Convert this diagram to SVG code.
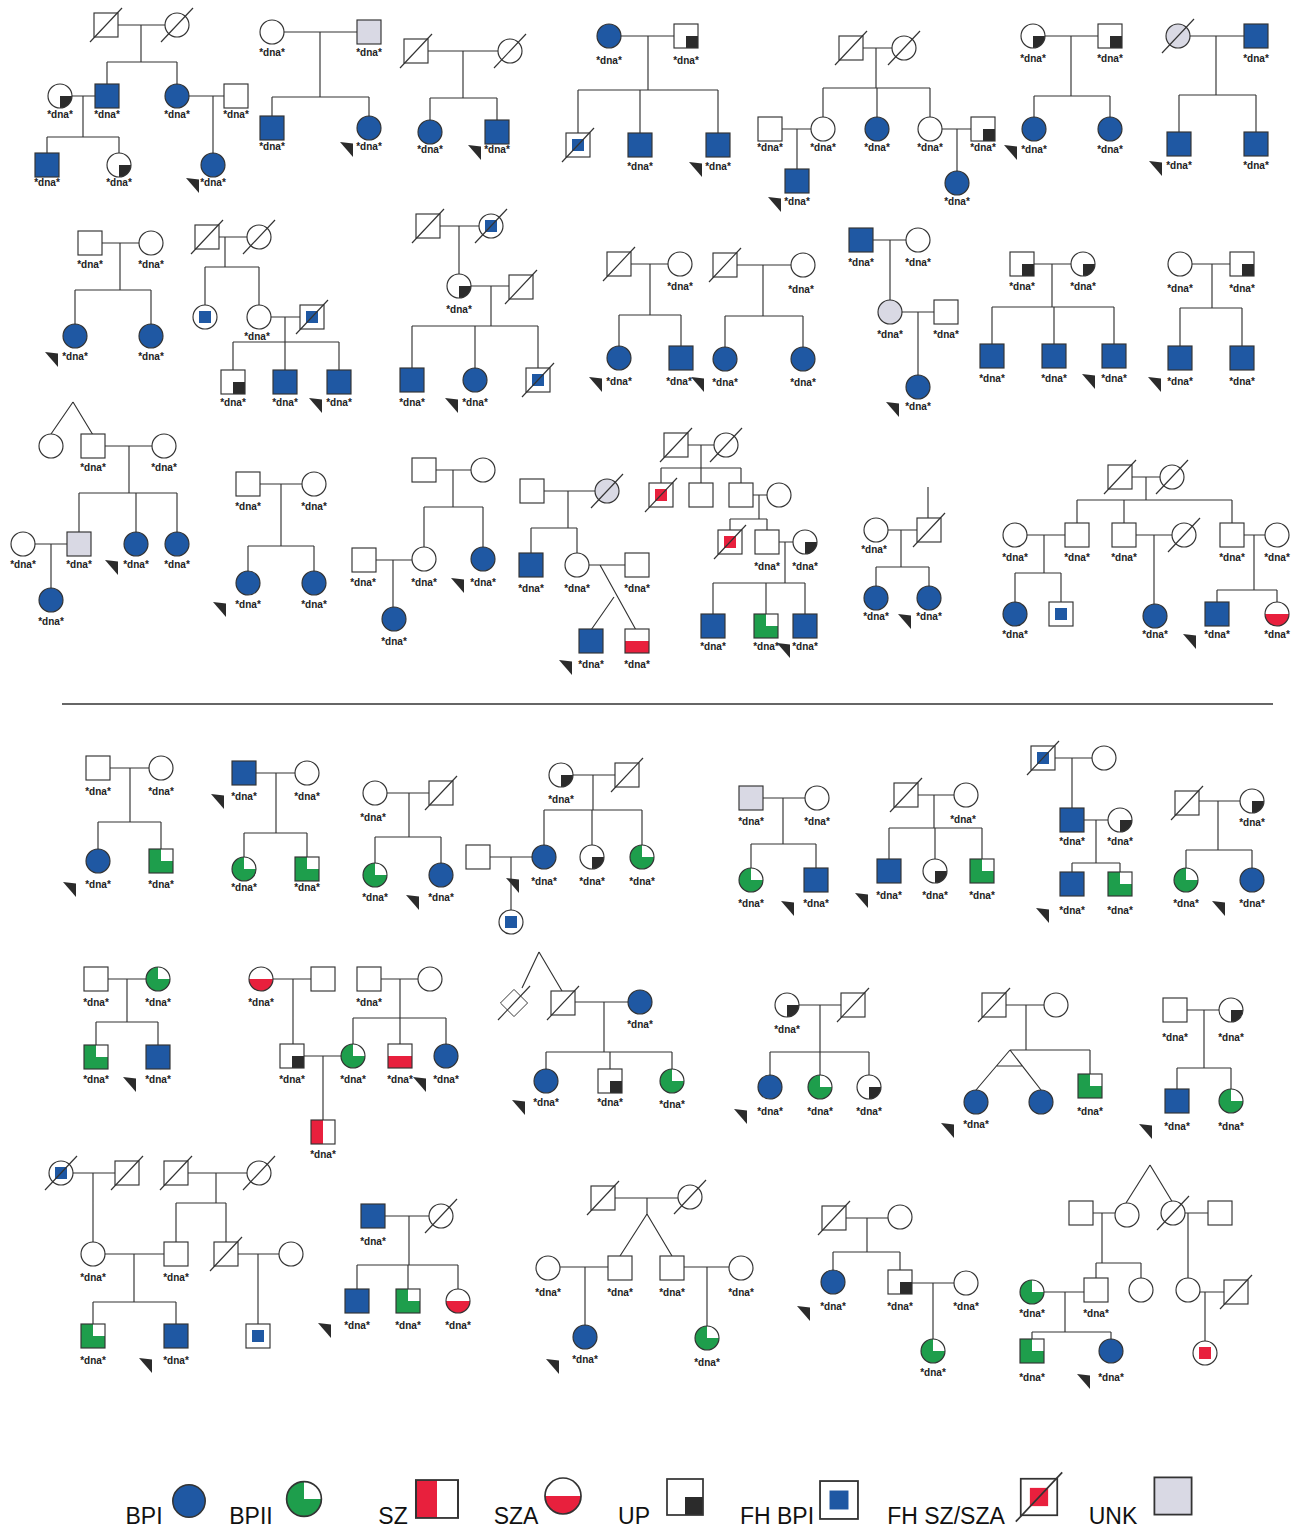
<svg xmlns="http://www.w3.org/2000/svg" width="1303" height="1533" viewBox="0 0 1303 1533">
<defs>
<style>
.o{stroke:#333;stroke-width:1.15}
.w{fill:#fff}
.n{fill:none}
.b{fill:#1f58a3}
.g{fill:#1e9e4c}
.r{fill:#e8203d}
.k{fill:#2b2b2b}
.u{fill:#d9d9e4}
.c path{stroke:#333;stroke-width:1.15;fill:none}
.d{font-family:"Liberation Sans",Arial,sans-serif;font-size:10px;font-weight:bold;text-anchor:middle;fill:#222}
.lg{font-family:"Liberation Sans",Arial,sans-serif;font-size:23px;text-anchor:middle;fill:#111}
</style>
<rect id="sq" class="o w" x="-12" y="-12" width="24" height="24"/>
<circle id="ci" class="o w" r="12"/>
<rect id="sqB" class="o b" x="-12" y="-12" width="24" height="24"/>
<circle id="ciB" class="o b" r="12"/>
<rect id="sqU" class="o u" x="-12" y="-12" width="24" height="24"/>
<circle id="ciU" class="o u" r="12"/>
<g id="sqG"><rect class="g" x="-12" y="-12" width="24" height="24"/><rect class="w" x="0" y="-12" width="12" height="12"/><rect class="o n" x="-12" y="-12" width="24" height="24"/></g>
<g id="ciG"><circle class="g" r="12"/><path class="w" d="M0,0V-12A12,12 0 0 1 12,0Z"/><circle class="o n" r="12"/></g>
<g id="sqUP"><rect class="w" x="-12" y="-12" width="24" height="24"/><rect class="k" x="0" y="0" width="12" height="12"/><rect class="o n" x="-12" y="-12" width="24" height="24"/></g>
<g id="ciUP"><circle class="w" r="12"/><path class="k" d="M0,0H12A12,12 0 0 1 0,12Z"/><circle class="o n" r="12"/></g>
<g id="sqSZ"><rect class="w" x="-12" y="-12" width="24" height="24"/><rect class="r" x="-12" y="-12" width="12" height="24"/><rect class="o n" x="-12" y="-12" width="24" height="24"/></g>
<g id="sqSZA"><rect class="w" x="-12" y="-12" width="24" height="24"/><rect class="r" x="-12" y="0" width="24" height="12"/><rect class="o n" x="-12" y="-12" width="24" height="24"/></g>
<g id="ciSZA"><circle class="w" r="12"/><path class="r" d="M-12,0A12,12 0 0 0 12,0Z"/><circle class="o n" r="12"/></g>
<g id="sqFH"><rect class="o w" x="-12" y="-12" width="24" height="24"/><rect class="b" x="-6" y="-6" width="12" height="12"/></g>
<g id="ciFH"><circle class="o w" r="12"/><rect class="b" x="-6" y="-6" width="12" height="12"/></g>
<g id="sqFHR"><rect class="o w" x="-12" y="-12" width="24" height="24"/><rect class="r" x="-6" y="-6" width="12" height="12"/></g>
<g id="ciFHR"><circle class="o w" r="12"/><rect class="r" x="-6" y="-6" width="12" height="12"/></g>
<line id="dec" class="o" x1="-16" y1="17" x2="16" y2="-17"/>
<polygon id="ar" class="k" points="0,0 13,1.5 13,15"/>
</defs>
<rect width="1303" height="1533" fill="#fff"/>

<g id="connectors" class="c">
<path d="M106,25H177M141,25V62M107,62H177M107,62V96M177,62V96M60,96H107M83,96V137M47,137H119M47,137V165M119,137V165M177,96H236M213,96V165"/>
<path d="M272,32H369M320,32V97M272,97H369M272,97V128M369,97V128"/>
<path d="M416,51H510M463,51V98M430,98H497M430,98V132M497,98V132"/>
<path d="M609,36H686M648,36V90M578,90H718M578,90V145M640,90V145M718,90V145"/>
<path d="M851,48H904M876,48V88M823,88H930M823,88V129M877,88V129M930,88V129M770,129H823M797,129V181M930,129H983M957,129V183"/>
<path d="M1033,36H1110M1071,36V96M1034,96H1110M1034,96V129M1110,96V129"/>
<path d="M1178,36H1256M1216,36V95M1179,95H1256M1179,95V144M1256,95V144"/>
<path d="M90,243H151M120,243V290M75,290H151M75,290V336M151,290V336"/>
<path d="M207,237H259M225,237V267M205,267H259M205,267V317M259,267V317M259,317H312M285,317V342M233,342H339M233,342V382M285,342V382M339,342V382"/>
<path d="M428,226H491M459,226V286M459,286H521M491,286V326M412,326H538M412,326V380M475,326V380M538,326V380"/>
<path d="M619,264H680M650,264V315M619,315H681M619,315V358M681,315V358M725,265H803M763,265V316M725,316H803M725,316V359M803,316V359"/>
<path d="M861,240H918M890,240V312M890,312H946M918,312V387"/>
<path d="M1022,264H1083M1052,264V307M992,307H1114M992,307V356M1054,307V356M1114,307V356"/>
<path d="M1180,264H1242M1212,264V308M1180,308H1242M1180,308V358M1242,308V358"/>
<path d="M73,402L51,434M73,402L93,435M93,446H164M129,446V493M79,493H177M79,493V544M136,493V544M177,493V544M23,544H79M51,544V600"/>
<path d="M248,484H314M281,484V546M248,546H314M248,546V583M314,546V583"/>
<path d="M424,470H483M453,470V507M424,507H483M424,507V559M483,507V559M364,560H424M393,560V619"/>
<path d="M532,491H607M568,491V528M531,528H577M531,528V565M577,528V565M577,565H637M600,565L636,630M591,630L614,597"/>
<path d="M676,445H726M701,445V468M661,468H741M661,468V495M701,468V495M741,468V495M741,495H779M759,495V519M730,519H767M730,519V542M767,519V542M767,542H805M785,542V583M713,583H805M713,583V626M766,583V626M805,583V626"/>
<path d="M928,487V530M876,530H929M901,530V567M876,567H929M876,567V598M929,567V598"/>
<path d="M1120,477H1172M1146,477V500M1077,500H1232M1077,500V535M1124,500V535M1232,500V535M1015,535H1077M1044,535V573M1015,573H1061M1015,573V614M1061,573V614M1124,535H1184M1154,535V616M1232,535H1277M1254,535V590M1217,590H1277M1217,590V614M1277,590V614"/>
<path d="M62,704H1273" style="stroke-width:1.6"/>
<path d="M98,768H161M130,768V822M98,822H161M98,822V861M161,822V861"/>
<path d="M244,773H307M276,773V833M244,833H307M244,833V869M307,833V869"/>
<path d="M375,793H441M409,793V837M375,837H441M375,837V875M441,837V875"/>
<path d="M561,775H627M593,775V810M544,810H642M544,810V857M592,810V857M642,810V857M478,857H544M511,857V922"/>
<path d="M751,798H817M783,798V844M751,844H816M751,844V880M816,844V880"/>
<path d="M906,795H966M934,795V828M889,828H982M889,828V871M935,828V871M982,828V871"/>
<path d="M1043,758H1104M1072,758V820M1072,820H1120M1096,820V863M1072,863H1120M1072,863V884M1120,863V884"/>
<path d="M1187,801H1252M1218,801V850M1186,850H1252M1186,850V880M1252,850V880"/>
<path d="M96,979H158M127,979V1022M96,1022H158M96,1022V1057M158,1022V1057"/>
<path d="M261,979H323M293,979V1056M369,979H430M400,979V1018M353,1018H446M353,1018V1056M400,1018V1056M446,1018V1056M292,1056H353M323,1056V1132"/>
<path d="M539,952L522,988M539,952L562,991M563,1002H640M604,1002V1052M546,1052H672M546,1052V1081M610,1052V1081M672,1052V1081"/>
<path d="M787,1005H853M820,1005V1052M770,1052H869M770,1052V1087M820,1052V1087M869,1052V1087"/>
<path d="M994,1005H1056M1026,1005V1050M1010,1050H1090M1090,1050V1086M1010,1050L976,1090M1010,1050L1041,1090M996,1066H1022"/>
<path d="M1175,1010H1231M1204,1010V1068M1177,1068H1231M1177,1068V1101M1231,1068V1101"/>
<path d="M61,1173H127M93,1173V1254M176,1173H259M216,1173V1203M176,1203H226M176,1203V1254M226,1203V1254M93,1254H176M134,1254V1302M93,1302H176M93,1302V1336M176,1302V1336M226,1254H291M258,1254V1336"/>
<path d="M373,1216H441M409,1216V1265M357,1265H458M357,1265V1301M408,1265V1301M458,1265V1301"/>
<path d="M603,1198H690M647,1198V1214M647,1214L620,1256M647,1214L672,1256M548,1267H620M585,1267V1337M672,1267H741M707,1267V1338"/>
<path d="M834,1218H900M867,1218V1252M833,1252H900M833,1252V1282M900,1252V1282M900,1283H966M933,1283V1351"/>
<path d="M1150,1165L1126,1203M1150,1165L1173,1203M1081,1213H1127M1102,1213V1263M1096,1263H1141M1096,1263V1290M1141,1263V1290M1173,1213H1220M1188,1213V1290M1032,1292H1096M1065,1292V1332M1032,1332H1111M1032,1332V1351M1111,1332V1351M1188,1292H1236M1205,1292V1353"/>
</g>

<!-- P1 -->
<g id="p1-1"><use href="#sq" x="106" y="25"/><use href="#dec" x="106" y="25"/></g>
<g id="p1-2"><use href="#ci" x="177" y="25"/><use href="#dec" x="177" y="25"/></g>
<g id="p1-3"><use href="#ciUP" x="60" y="96"/><text class="d" x="60" y="118">*dna*</text></g>
<g id="p1-4"><use href="#sqB" x="107" y="96"/><text class="d" x="107" y="118">*dna*</text></g>
<g id="p1-5"><use href="#ciB" x="177" y="96"/><text class="d" x="177" y="118">*dna*</text></g>
<g id="p1-6"><use href="#sq" x="236" y="96"/><text class="d" x="236" y="118">*dna*</text></g>
<g id="p1-7"><use href="#sqB" x="47" y="165"/><text class="d" x="47" y="186">*dna*</text></g>
<g id="p1-8"><use href="#ciUP" x="119" y="165"/><text class="d" x="119" y="186">*dna*</text></g>
<g id="p1-9"><use href="#ciB" x="213" y="165"/><text class="d" x="213" y="186">*dna*</text><use href="#ar" x="186" y="178"/></g>
<!-- P2 -->
<g id="p2-1"><use href="#ci" x="272" y="32"/><text class="d" x="272" y="56">*dna*</text></g>
<g id="p2-2"><use href="#sqU" x="369" y="32"/><text class="d" x="369" y="56">*dna*</text></g>
<g id="p2-3"><use href="#sqB" x="272" y="128"/><text class="d" x="272" y="150">*dna*</text></g>
<g id="p2-4"><use href="#ciB" x="369" y="128"/><text class="d" x="369" y="150">*dna*</text><use href="#ar" x="340" y="142"/></g>
<!-- P3 -->
<g id="p3-1"><use href="#sq" x="416" y="51"/><use href="#dec" x="416" y="51"/></g>
<g id="p3-2"><use href="#ci" x="510" y="51"/><use href="#dec" x="510" y="51"/></g>
<g id="p3-3"><use href="#ciB" x="430" y="132"/><text class="d" x="430" y="153">*dna*</text></g>
<g id="p3-4"><use href="#sqB" x="497" y="132"/><text class="d" x="497" y="153">*dna*</text><use href="#ar" x="468" y="145"/></g>
<!-- P4 -->
<g id="p4-1"><use href="#ciB" x="609" y="36"/><text class="d" x="609" y="64">*dna*</text></g>
<g id="p4-2"><use href="#sqUP" x="686" y="36"/><text class="d" x="686" y="64">*dna*</text></g>
<g id="p4-3"><use href="#sqFH" x="578" y="145"/><use href="#dec" x="578" y="145"/></g>
<g id="p4-4"><use href="#sqB" x="640" y="145"/><text class="d" x="640" y="170">*dna*</text></g>
<g id="p4-5"><use href="#sqB" x="718" y="145"/><text class="d" x="718" y="170">*dna*</text><use href="#ar" x="689" y="162"/></g>
<!-- P5 -->
<g id="p5-1"><use href="#sq" x="851" y="48"/><use href="#dec" x="851" y="48"/></g>
<g id="p5-2"><use href="#ci" x="904" y="48"/><use href="#dec" x="904" y="48"/></g>
<g id="p5-3"><use href="#sq" x="770" y="129"/><text class="d" x="770" y="151">*dna*</text></g>
<g id="p5-4"><use href="#ci" x="823" y="129"/><text class="d" x="823" y="151">*dna*</text></g>
<g id="p5-5"><use href="#ciB" x="877" y="129"/><text class="d" x="877" y="151">*dna*</text></g>
<g id="p5-6"><use href="#ci" x="930" y="129"/><text class="d" x="930" y="151">*dna*</text></g>
<g id="p5-7"><use href="#sqUP" x="983" y="129"/><text class="d" x="983" y="151">*dna*</text></g>
<g id="p5-8"><use href="#sqB" x="797" y="181"/><text class="d" x="797" y="205">*dna*</text><use href="#ar" x="768" y="197"/></g>
<g id="p5-9"><use href="#ciB" x="957" y="183"/><text class="d" x="957" y="205">*dna*</text></g>
<!-- P6 -->
<g id="p6-1"><use href="#ciUP" x="1033" y="36"/><text class="d" x="1033" y="62">*dna*</text></g>
<g id="p6-2"><use href="#sqUP" x="1110" y="36"/><text class="d" x="1110" y="62">*dna*</text></g>
<g id="p6-3"><use href="#ciB" x="1034" y="129"/><text class="d" x="1034" y="153">*dna*</text><use href="#ar" x="1004" y="145"/></g>
<g id="p6-4"><use href="#ciB" x="1110" y="129"/><text class="d" x="1110" y="153">*dna*</text></g>
<!-- P7 -->
<g id="p7-1"><use href="#ciU" x="1178" y="36"/><use href="#dec" x="1178" y="36"/></g>
<g id="p7-2"><use href="#sqB" x="1256" y="36"/><text class="d" x="1256" y="62">*dna*</text></g>
<g id="p7-3"><use href="#sqB" x="1179" y="144"/><text class="d" x="1179" y="169">*dna*</text><use href="#ar" x="1149" y="161"/></g>
<g id="p7-4"><use href="#sqB" x="1256" y="144"/><text class="d" x="1256" y="169">*dna*</text></g>
<!-- P8 -->
<g id="p8-1"><use href="#sq" x="90" y="243"/><text class="d" x="90" y="268">*dna*</text></g>
<g id="p8-2"><use href="#ci" x="151" y="243"/><text class="d" x="151" y="268">*dna*</text></g>
<g id="p8-3"><use href="#ciB" x="75" y="336"/><text class="d" x="75" y="360">*dna*</text><use href="#ar" x="45" y="352"/></g>
<g id="p8-4"><use href="#ciB" x="151" y="336"/><text class="d" x="151" y="360">*dna*</text></g>
<!-- P9 -->
<g id="p9-1"><use href="#sq" x="207" y="237"/><use href="#dec" x="207" y="237"/></g>
<g id="p9-2"><use href="#ci" x="259" y="237"/><use href="#dec" x="259" y="237"/></g>
<g id="p9-3"><use href="#ciFH" x="205" y="317"/></g>
<g id="p9-4"><use href="#ci" x="259" y="317"/><text class="d" x="257" y="340">*dna*</text></g>
<g id="p9-5"><use href="#sqFH" x="312" y="317"/><use href="#dec" x="312" y="317"/></g>
<g id="p9-6"><use href="#sqUP" x="233" y="382"/><text class="d" x="233" y="406">*dna*</text></g>
<g id="p9-7"><use href="#sqB" x="285" y="382"/><text class="d" x="285" y="406">*dna*</text></g>
<g id="p9-8"><use href="#sqB" x="339" y="382"/><text class="d" x="339" y="406">*dna*</text><use href="#ar" x="309" y="398"/></g>
<!-- P10 -->
<g id="p10-1"><use href="#sq" x="428" y="226"/><use href="#dec" x="428" y="226"/></g>
<g id="p10-2"><use href="#ciFH" x="491" y="226"/><use href="#dec" x="491" y="226"/></g>
<g id="p10-3"><use href="#ciUP" x="459" y="286"/><text class="d" x="459" y="313">*dna*</text></g>
<g id="p10-4"><use href="#sq" x="521" y="287"/><use href="#dec" x="521" y="287"/></g>
<g id="p10-5"><use href="#sqB" x="412" y="380"/><text class="d" x="412" y="406">*dna*</text></g>
<g id="p10-6"><use href="#ciB" x="475" y="380"/><text class="d" x="475" y="406">*dna*</text><use href="#ar" x="445" y="398"/></g>
<g id="p10-7"><use href="#sqFH" x="538" y="380"/><use href="#dec" x="538" y="380"/></g>
<!-- P11 -->
<g id="p11-1"><use href="#sq" x="619" y="264"/><use href="#dec" x="619" y="264"/></g>
<g id="p11-2"><use href="#ci" x="680" y="264"/><text class="d" x="680" y="290">*dna*</text></g>
<g id="p11-3"><use href="#ciB" x="619" y="358"/><text class="d" x="619" y="385">*dna*</text><use href="#ar" x="589" y="377"/></g>
<g id="p11-4"><use href="#sqB" x="681" y="358"/><text class="d" x="679" y="385">*dna*</text><use href="#ar" x="691" y="377"/></g>
<g id="p11-5"><use href="#sq" x="725" y="265"/><use href="#dec" x="725" y="265"/></g>
<g id="p11-6"><use href="#ci" x="803" y="265"/><text class="d" x="801" y="293">*dna*</text></g>
<g id="p11-7"><use href="#ciB" x="725" y="359"/><text class="d" x="725" y="386">*dna*</text></g>
<g id="p11-8"><use href="#ciB" x="803" y="359"/><text class="d" x="803" y="386">*dna*</text></g>
<!-- P12 -->
<g id="p12-1"><use href="#sqB" x="861" y="240"/><text class="d" x="861" y="266">*dna*</text></g>
<g id="p12-2"><use href="#ci" x="918" y="240"/><text class="d" x="918" y="266">*dna*</text></g>
<g id="p12-3"><use href="#ciU" x="890" y="312"/><text class="d" x="890" y="338">*dna*</text></g>
<g id="p12-4"><use href="#sq" x="946" y="312"/><text class="d" x="946" y="338">*dna*</text></g>
<g id="p12-5"><use href="#ciB" x="918" y="387"/><text class="d" x="918" y="410">*dna*</text><use href="#ar" x="886" y="402"/></g>
<!-- P13 -->
<g id="p13-1"><use href="#sqUP" x="1022" y="264"/><text class="d" x="1022" y="290">*dna*</text></g>
<g id="p13-2"><use href="#ciUP" x="1083" y="264"/><text class="d" x="1083" y="290">*dna*</text></g>
<g id="p13-3"><use href="#sqB" x="992" y="356"/><text class="d" x="992" y="382">*dna*</text></g>
<g id="p13-4"><use href="#sqB" x="1054" y="356"/><text class="d" x="1054" y="382">*dna*</text></g>
<g id="p13-5"><use href="#sqB" x="1114" y="356"/><text class="d" x="1114" y="382">*dna*</text><use href="#ar" x="1082" y="374"/></g>
<!-- P14 -->
<g id="p14-1"><use href="#ci" x="1180" y="264"/><text class="d" x="1180" y="292">*dna*</text></g>
<g id="p14-2"><use href="#sqUP" x="1242" y="264"/><text class="d" x="1242" y="292">*dna*</text></g>
<g id="p14-3"><use href="#sqB" x="1180" y="358"/><text class="d" x="1180" y="385">*dna*</text><use href="#ar" x="1148" y="377"/></g>
<g id="p14-4"><use href="#sqB" x="1242" y="358"/><text class="d" x="1242" y="385">*dna*</text></g>
<!-- P15 -->
<g id="p15-1"><use href="#ci" x="51" y="446"/></g>
<g id="p15-2"><use href="#sq" x="93" y="446"/><text class="d" x="93" y="471">*dna*</text></g>
<g id="p15-3"><use href="#ci" x="164" y="446"/><text class="d" x="164" y="471">*dna*</text></g>
<g id="p15-4"><use href="#sqU" x="79" y="544"/><text class="d" x="79" y="568">*dna*</text></g>
<g id="p15-5"><use href="#ciB" x="136" y="544"/><text class="d" x="136" y="568">*dna*</text><use href="#ar" x="105" y="560"/></g>
<g id="p15-6"><use href="#ciB" x="177" y="544"/><text class="d" x="177" y="568">*dna*</text></g>
<g id="p15-7"><use href="#ci" x="23" y="544"/><text class="d" x="23" y="568">*dna*</text></g>
<g id="p15-8"><use href="#ciB" x="51" y="600"/><text class="d" x="51" y="625">*dna*</text></g>
<!-- P16 -->
<g id="p16-1"><use href="#sq" x="248" y="484"/><text class="d" x="248" y="510">*dna*</text></g>
<g id="p16-2"><use href="#ci" x="314" y="484"/><text class="d" x="314" y="510">*dna*</text></g>
<g id="p16-3"><use href="#ciB" x="248" y="583"/><text class="d" x="248" y="608">*dna*</text><use href="#ar" x="213" y="602"/></g>
<g id="p16-4"><use href="#ciB" x="314" y="583"/><text class="d" x="314" y="608">*dna*</text></g>
<!-- P17 -->
<g id="p17-1"><use href="#sq" x="424" y="470"/></g>
<g id="p17-2"><use href="#ci" x="483" y="470"/></g>
<g id="p17-3"><use href="#ci" x="424" y="559"/><text class="d" x="424" y="586">*dna*</text></g>
<g id="p17-4"><use href="#ciB" x="483" y="559"/><text class="d" x="483" y="586">*dna*</text><use href="#ar" x="451" y="578"/></g>
<g id="p17-5"><use href="#sq" x="364" y="560"/><text class="d" x="363" y="586">*dna*</text></g>
<g id="p17-6"><use href="#ciB" x="394" y="619"/><text class="d" x="394" y="645">*dna*</text></g>
<!-- P18 -->
<g id="p18-1"><use href="#sq" x="532" y="491"/></g>
<g id="p18-2"><use href="#ciU" x="607" y="491"/><use href="#dec" x="607" y="491"/></g>
<g id="p18-3"><use href="#sqB" x="531" y="565"/><text class="d" x="531" y="592">*dna*</text></g>
<g id="p18-4"><use href="#ci" x="577" y="565"/><text class="d" x="577" y="592">*dna*</text></g>
<g id="p18-5"><use href="#sq" x="637" y="565"/><text class="d" x="637" y="592">*dna*</text></g>
<g id="p18-6"><use href="#sqB" x="591" y="641"/><text class="d" x="591" y="668">*dna*</text><use href="#ar" x="559" y="660"/></g>
<g id="p18-7"><use href="#sqSZA" x="637" y="641"/><text class="d" x="637" y="668">*dna*</text></g>
<!-- P19 -->
<g id="p19-1"><use href="#sq" x="676" y="445"/><use href="#dec" x="676" y="445"/></g>
<g id="p19-2"><use href="#ci" x="726" y="445"/><use href="#dec" x="726" y="445"/></g>
<g id="p19-3"><use href="#sqFHR" x="661" y="495"/><use href="#dec" x="661" y="495"/></g>
<g id="p19-4"><use href="#sq" x="701" y="495"/></g>
<g id="p19-5"><use href="#sq" x="741" y="495"/></g>
<g id="p19-6"><use href="#ci" x="779" y="495"/></g>
<g id="p19-7"><use href="#sqFHR" x="730" y="542"/><use href="#dec" x="730" y="542"/></g>
<g id="p19-8"><use href="#sq" x="767" y="542"/><text class="d" x="767" y="570">*dna*</text></g>
<g id="p19-9"><use href="#ciUP" x="805" y="542"/><text class="d" x="805" y="570">*dna*</text></g>
<g id="p19-10"><use href="#sqB" x="713" y="626"/><text class="d" x="713" y="650">*dna*</text></g>
<g id="p19-11"><use href="#sqG" x="766" y="626"/><text class="d" x="766" y="650">*dna*</text><use href="#ar" x="777" y="643"/></g>
<g id="p19-12"><use href="#sqB" x="805" y="626"/><text class="d" x="805" y="650">*dna*</text></g>
<!-- P20 -->
<g id="p20-1"><use href="#ci" x="876" y="530"/><text class="d" x="874" y="553">*dna*</text></g>
<g id="p20-2"><use href="#sq" x="929" y="530"/><use href="#dec" x="929" y="530"/></g>
<g id="p20-3"><use href="#ciB" x="876" y="598"/><text class="d" x="876" y="620">*dna*</text></g>
<g id="p20-4"><use href="#ciB" x="929" y="598"/><text class="d" x="929" y="620">*dna*</text><use href="#ar" x="898" y="614"/></g>
<!-- P21 -->
<g id="p21-1"><use href="#sq" x="1120" y="477"/><use href="#dec" x="1120" y="477"/></g>
<g id="p21-2"><use href="#ci" x="1172" y="477"/><use href="#dec" x="1172" y="477"/></g>
<g id="p21-3"><use href="#ci" x="1015" y="535"/><text class="d" x="1015" y="561">*dna*</text></g>
<g id="p21-4"><use href="#sq" x="1077" y="535"/><text class="d" x="1077" y="561">*dna*</text></g>
<g id="p21-5"><use href="#sq" x="1124" y="535"/><text class="d" x="1124" y="561">*dna*</text></g>
<g id="p21-6"><use href="#ci" x="1184" y="535"/><use href="#dec" x="1184" y="535"/></g>
<g id="p21-7"><use href="#sq" x="1232" y="535"/><text class="d" x="1232" y="561">*dna*</text></g>
<g id="p21-8"><use href="#ci" x="1277" y="535"/><text class="d" x="1277" y="561">*dna*</text></g>
<g id="p21-9"><use href="#ciB" x="1015" y="614"/><text class="d" x="1015" y="638">*dna*</text></g>
<g id="p21-10"><use href="#sqFH" x="1061" y="614"/></g>
<g id="p21-11"><use href="#ciB" x="1155" y="616"/><text class="d" x="1155" y="638">*dna*</text></g>
<g id="p21-12"><use href="#sqB" x="1217" y="614"/><text class="d" x="1217" y="638">*dna*</text><use href="#ar" x="1183" y="634"/></g>
<g id="p21-13"><use href="#ciSZA" x="1277" y="614"/><text class="d" x="1277" y="638">*dna*</text></g>
<!-- P22 -->
<g id="p22-1"><use href="#sq" x="98" y="768"/><text class="d" x="98" y="795">*dna*</text></g>
<g id="p22-2"><use href="#ci" x="161" y="768"/><text class="d" x="161" y="795">*dna*</text></g>
<g id="p22-3"><use href="#ciB" x="98" y="861"/><text class="d" x="98" y="888">*dna*</text><use href="#ar" x="63" y="882"/></g>
<g id="p22-4"><use href="#sqG" x="161" y="861"/><text class="d" x="161" y="888">*dna*</text></g>
<!-- P23 -->
<g id="p23-1"><use href="#sqB" x="244" y="773"/><text class="d" x="244" y="800">*dna*</text><use href="#ar" x="211" y="794"/></g>
<g id="p23-2"><use href="#ci" x="307" y="773"/><text class="d" x="307" y="800">*dna*</text></g>
<g id="p23-3"><use href="#ciG" x="244" y="869"/><text class="d" x="244" y="891">*dna*</text></g>
<g id="p23-4"><use href="#sqG" x="307" y="869"/><text class="d" x="307" y="891">*dna*</text></g>
<!-- P24 -->
<g id="p24-1"><use href="#ci" x="375" y="793"/><text class="d" x="373" y="821">*dna*</text></g>
<g id="p24-2"><use href="#sq" x="441" y="793"/><use href="#dec" x="441" y="793"/></g>
<g id="p24-3"><use href="#ciG" x="375" y="875"/><text class="d" x="375" y="901">*dna*</text></g>
<g id="p24-4"><use href="#ciB" x="441" y="875"/><text class="d" x="441" y="901">*dna*</text><use href="#ar" x="406" y="895"/></g>
<!-- P25 -->
<g id="p25-1"><use href="#ciUP" x="561" y="775"/><text class="d" x="561" y="803">*dna*</text></g>
<g id="p25-2"><use href="#sq" x="627" y="775"/><use href="#dec" x="627" y="775"/></g>
<g id="p25-3"><use href="#ciB" x="544" y="857"/><text class="d" x="544" y="885">*dna*</text></g>
<g id="p25-4"><use href="#ciUP" x="592" y="857"/><text class="d" x="592" y="885">*dna*</text></g>
<g id="p25-5"><use href="#ciG" x="642" y="857"/><text class="d" x="642" y="885">*dna*</text></g>
<g id="p25-6"><use href="#sq" x="478" y="857"/></g>
<g id="p25-7"><use href="#ciFH" x="511" y="922"/><use href="#ar" x="506" y="878"/></g>
<!-- P26 -->
<g id="p26-1"><use href="#sqU" x="751" y="798"/><text class="d" x="751" y="825">*dna*</text></g>
<g id="p26-2"><use href="#ci" x="817" y="798"/><text class="d" x="817" y="825">*dna*</text></g>
<g id="p26-3"><use href="#ciG" x="751" y="880"/><text class="d" x="751" y="907">*dna*</text></g>
<g id="p26-4"><use href="#sqB" x="816" y="880"/><text class="d" x="816" y="907">*dna*</text><use href="#ar" x="781" y="901"/></g>
<!-- P27 -->
<g id="p27-1"><use href="#sq" x="906" y="795"/><use href="#dec" x="906" y="795"/></g>
<g id="p27-2"><use href="#ci" x="966" y="795"/><text class="d" x="963" y="823">*dna*</text></g>
<g id="p27-3"><use href="#sqB" x="889" y="871"/><text class="d" x="889" y="899">*dna*</text><use href="#ar" x="855" y="893"/></g>
<g id="p27-4"><use href="#ciUP" x="935" y="871"/><text class="d" x="935" y="899">*dna*</text></g>
<g id="p27-5"><use href="#sqG" x="982" y="871"/><text class="d" x="982" y="899">*dna*</text></g>
<!-- P28 -->
<g id="p28-1"><use href="#sqFH" x="1043" y="758"/><use href="#dec" x="1043" y="758"/></g>
<g id="p28-2"><use href="#ci" x="1104" y="758"/></g>
<g id="p28-3"><use href="#sqB" x="1072" y="820"/><text class="d" x="1072" y="845">*dna*</text></g>
<g id="p28-4"><use href="#ciUP" x="1120" y="820"/><text class="d" x="1120" y="845">*dna*</text></g>
<g id="p28-5"><use href="#sqB" x="1072" y="884"/><text class="d" x="1072" y="914">*dna*</text><use href="#ar" x="1036" y="908"/></g>
<g id="p28-6"><use href="#sqG" x="1120" y="884"/><text class="d" x="1120" y="914">*dna*</text></g>
<!-- P29 -->
<g id="p29-1"><use href="#sq" x="1187" y="803"/><use href="#dec" x="1187" y="803"/></g>
<g id="p29-2"><use href="#ciUP" x="1252" y="801"/><text class="d" x="1252" y="826">*dna*</text></g>
<g id="p29-3"><use href="#ciG" x="1186" y="880"/><text class="d" x="1186" y="907">*dna*</text></g>
<g id="p29-4"><use href="#ciB" x="1252" y="880"/><text class="d" x="1252" y="907">*dna*</text><use href="#ar" x="1212" y="901"/></g>
<!-- P30 -->
<g id="p30-1"><use href="#sq" x="96" y="979"/><text class="d" x="96" y="1006">*dna*</text></g>
<g id="p30-2"><use href="#ciG" x="158" y="979"/><text class="d" x="158" y="1006">*dna*</text></g>
<g id="p30-3"><use href="#sqG" x="96" y="1057"/><text class="d" x="96" y="1083">*dna*</text></g>
<g id="p30-4"><use href="#sqB" x="158" y="1057"/><text class="d" x="158" y="1083">*dna*</text><use href="#ar" x="123" y="1077"/></g>
<!-- P31 -->
<g id="p31-1"><use href="#ciSZA" x="261" y="979"/><text class="d" x="261" y="1006">*dna*</text></g>
<g id="p31-2"><use href="#sq" x="323" y="979"/></g>
<g id="p31-3"><use href="#sq" x="369" y="979"/><text class="d" x="369" y="1006">*dna*</text></g>
<g id="p31-4"><use href="#ci" x="430" y="979"/></g>
<g id="p31-5"><use href="#sqUP" x="292" y="1056"/><text class="d" x="292" y="1083">*dna*</text></g>
<g id="p31-6"><use href="#ciG" x="353" y="1056"/><text class="d" x="353" y="1083">*dna*</text></g>
<g id="p31-7"><use href="#sqSZA" x="400" y="1056"/><text class="d" x="400" y="1083">*dna*</text><use href="#ar" x="413" y="1077"/></g>
<g id="p31-8"><use href="#ciB" x="446" y="1056"/><text class="d" x="446" y="1083">*dna*</text></g>
<g id="p31-9"><use href="#sqSZ" x="323" y="1132"/><text class="d" x="323" y="1158">*dna*</text></g>
<!-- P32 -->
<g id="p32-1"><use href="#sq" transform="translate(514,1003) rotate(45) scale(0.8)"/><use href="#dec" x="514" y="1003"/></g>
<g id="p32-2"><use href="#sq" x="563" y="1003"/><use href="#dec" x="563" y="1003"/></g>
<g id="p32-3"><use href="#ciB" x="640" y="1002"/><text class="d" x="640" y="1028">*dna*</text></g>
<g id="p32-4"><use href="#ciB" x="546" y="1081"/><text class="d" x="546" y="1106">*dna*</text><use href="#ar" x="512" y="1100"/></g>
<g id="p32-5"><use href="#sqUP" x="610" y="1081"/><text class="d" x="610" y="1106">*dna*</text></g>
<g id="p32-6"><use href="#ciG" x="672" y="1081"/><text class="d" x="672" y="1108">*dna*</text></g>
<!-- P33 -->
<g id="p33-1"><use href="#ciUP" x="787" y="1005"/><text class="d" x="787" y="1033">*dna*</text></g>
<g id="p33-2"><use href="#sq" x="853" y="1005"/><use href="#dec" x="853" y="1005"/></g>
<g id="p33-3"><use href="#ciB" x="770" y="1087"/><text class="d" x="770" y="1115">*dna*</text><use href="#ar" x="734" y="1109"/></g>
<g id="p33-4"><use href="#ciG" x="820" y="1087"/><text class="d" x="820" y="1115">*dna*</text></g>
<g id="p33-5"><use href="#ciUP" x="869" y="1087"/><text class="d" x="869" y="1115">*dna*</text></g>
<!-- P34 -->
<g id="p34-1"><use href="#sq" x="994" y="1005"/><use href="#dec" x="994" y="1005"/></g>
<g id="p34-2"><use href="#ci" x="1056" y="1005"/></g>
<g id="p34-3"><use href="#ciB" x="976" y="1102"/><text class="d" x="976" y="1128">*dna*</text><use href="#ar" x="941" y="1123"/></g>
<g id="p34-4"><use href="#ciB" x="1041" y="1102"/></g>
<g id="p34-5"><use href="#sqG" x="1090" y="1086"/><text class="d" x="1090" y="1115">*dna*</text></g>
<!-- P35 -->
<g id="p35-1"><use href="#sq" x="1175" y="1010"/><text class="d" x="1175" y="1041">*dna*</text></g>
<g id="p35-2"><use href="#ciUP" x="1231" y="1010"/><text class="d" x="1231" y="1041">*dna*</text></g>
<g id="p35-3"><use href="#sqB" x="1177" y="1101"/><text class="d" x="1177" y="1130">*dna*</text><use href="#ar" x="1139" y="1124"/></g>
<g id="p35-4"><use href="#ciG" x="1231" y="1101"/><text class="d" x="1231" y="1130">*dna*</text></g>
<!-- P36 -->
<g id="p36-1"><use href="#ciFH" x="61" y="1173"/><use href="#dec" x="61" y="1173"/></g>
<g id="p36-2"><use href="#sq" x="127" y="1173"/><use href="#dec" x="127" y="1173"/></g>
<g id="p36-3"><use href="#sq" x="176" y="1173"/><use href="#dec" x="176" y="1173"/></g>
<g id="p36-4"><use href="#ci" x="259" y="1173"/><use href="#dec" x="259" y="1173"/></g>
<g id="p36-5"><use href="#ci" x="93" y="1254"/><text class="d" x="93" y="1281">*dna*</text></g>
<g id="p36-6"><use href="#sq" x="176" y="1254"/><text class="d" x="176" y="1281">*dna*</text></g>
<g id="p36-7"><use href="#sq" x="226" y="1254"/><use href="#dec" x="226" y="1254"/></g>
<g id="p36-8"><use href="#ci" x="291" y="1254"/></g>
<g id="p36-9"><use href="#sqG" x="93" y="1336"/><text class="d" x="93" y="1364">*dna*</text></g>
<g id="p36-10"><use href="#sqB" x="176" y="1336"/><text class="d" x="176" y="1364">*dna*</text><use href="#ar" x="139" y="1358"/></g>
<g id="p36-11"><use href="#sqFH" x="258" y="1336"/></g>
<!-- P37 -->
<g id="p37-1"><use href="#sqB" x="373" y="1216"/><text class="d" x="373" y="1245">*dna*</text></g>
<g id="p37-2"><use href="#ci" x="441" y="1216"/><use href="#dec" x="441" y="1216"/></g>
<g id="p37-3"><use href="#sqB" x="357" y="1301"/><text class="d" x="357" y="1329">*dna*</text><use href="#ar" x="318" y="1323"/></g>
<g id="p37-4"><use href="#sqG" x="408" y="1301"/><text class="d" x="408" y="1329">*dna*</text></g>
<g id="p37-5"><use href="#ciSZA" x="458" y="1301"/><text class="d" x="458" y="1329">*dna*</text></g>
<!-- P38 -->
<g id="p38-1"><use href="#sq" x="603" y="1198"/><use href="#dec" x="603" y="1198"/></g>
<g id="p38-2"><use href="#ci" x="690" y="1197"/><use href="#dec" x="690" y="1197"/></g>
<g id="p38-3"><use href="#ci" x="548" y="1268"/><text class="d" x="548" y="1296">*dna*</text></g>
<g id="p38-4"><use href="#sq" x="620" y="1268"/><text class="d" x="620" y="1296">*dna*</text></g>
<g id="p38-5"><use href="#sq" x="672" y="1268"/><text class="d" x="672" y="1296">*dna*</text></g>
<g id="p38-6"><use href="#ci" x="741" y="1268"/><text class="d" x="741" y="1296">*dna*</text></g>
<g id="p38-7"><use href="#ciB" x="585" y="1337"/><text class="d" x="585" y="1363">*dna*</text><use href="#ar" x="546" y="1359"/></g>
<g id="p38-8"><use href="#ciG" x="707" y="1338"/><text class="d" x="707" y="1366">*dna*</text></g>
<!-- P39 -->
<g id="p39-1"><use href="#sq" x="834" y="1218"/><use href="#dec" x="834" y="1218"/></g>
<g id="p39-2"><use href="#ci" x="900" y="1217"/></g>
<g id="p39-3"><use href="#ciB" x="833" y="1282"/><text class="d" x="833" y="1310">*dna*</text><use href="#ar" x="797" y="1306"/></g>
<g id="p39-4"><use href="#sqUP" x="900" y="1282"/><text class="d" x="900" y="1310">*dna*</text></g>
<g id="p39-5"><use href="#ci" x="966" y="1283"/><text class="d" x="966" y="1310">*dna*</text></g>
<g id="p39-6"><use href="#ciG" x="933" y="1351"/><text class="d" x="933" y="1376">*dna*</text></g>
<!-- P40 -->
<g id="p40-1"><use href="#sq" x="1081" y="1213"/></g>
<g id="p40-2"><use href="#ci" x="1127" y="1215"/></g>
<g id="p40-3"><use href="#ci" x="1173" y="1213"/><use href="#dec" x="1173" y="1213"/></g>
<g id="p40-4"><use href="#sq" x="1220" y="1213"/></g>
<g id="p40-5"><use href="#sq" x="1096" y="1290"/><text class="d" x="1096" y="1317">*dna*</text></g>
<g id="p40-6"><use href="#ci" x="1141" y="1290"/></g>
<g id="p40-7"><use href="#ci" x="1188" y="1290"/></g>
<g id="p40-8"><use href="#sq" x="1236" y="1292"/><use href="#dec" x="1236" y="1292"/></g>
<g id="p40-9"><use href="#ciG" x="1032" y="1292"/><text class="d" x="1032" y="1317">*dna*</text></g>
<g id="p40-10"><use href="#sqG" x="1032" y="1351"/><text class="d" x="1032" y="1381">*dna*</text></g>
<g id="p40-11"><use href="#ciB" x="1111" y="1351"/><text class="d" x="1111" y="1381">*dna*</text><use href="#ar" x="1077" y="1374"/></g>
<g id="p40-12"><use href="#ciFHR" x="1205" y="1353"/></g>

<!-- Legend -->
<g id="legend">
<text class="lg" x="144" y="1524">BPI</text>
<use href="#ciB" transform="translate(189,1501) scale(1.35)"/>
<text class="lg" x="251" y="1524">BPII</text>
<use href="#ciG" transform="translate(304,1499) scale(1.45)"/>
<text class="lg" x="393" y="1524">SZ</text>
<use href="#sqSZ" transform="translate(437,1499) scale(1.75,1.58)"/>
<text class="lg" x="516" y="1524">SZA</text>
<use href="#ciSZA" transform="translate(563,1496) scale(1.5)"/>
<text class="lg" x="634" y="1524">UP</text>
<use href="#sqUP" transform="translate(685,1497) scale(1.5)"/>
<text class="lg" x="777" y="1524">FH BPI</text>
<use href="#sqFH" transform="translate(839,1500) scale(1.58)"/>
<text class="lg" x="946" y="1524">FH SZ/SZA</text>
<use href="#sqFHR" transform="translate(1039,1497) scale(1.52)"/>
<use href="#dec" transform="translate(1039,1497) scale(1.45)"/>
<text class="lg" x="1113" y="1524">UNK</text>
<use href="#sqU" transform="translate(1173,1496) scale(1.55)"/>
</g>
</svg>
